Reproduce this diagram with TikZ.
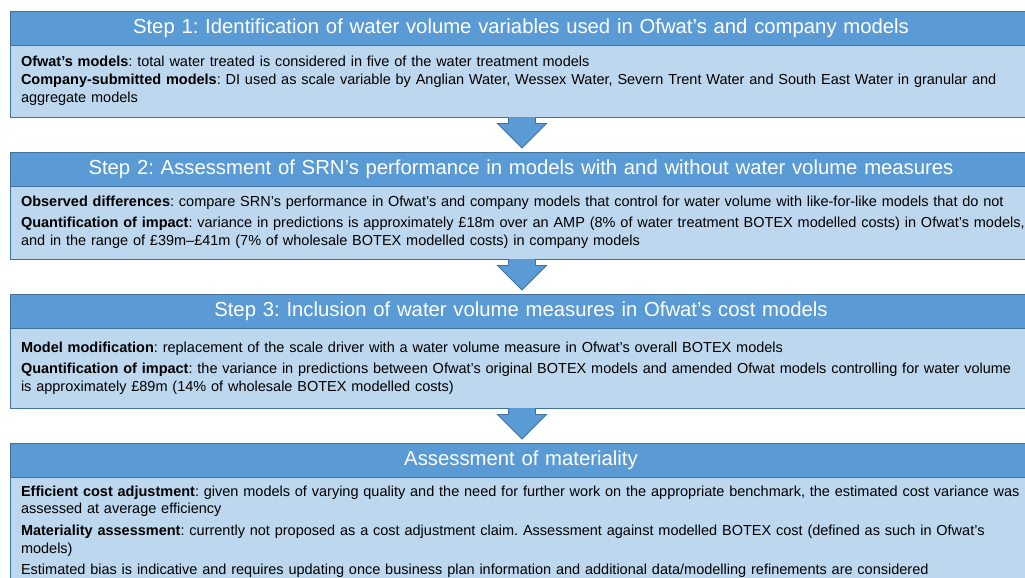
\documentclass[tikz,border=0pt]{standalone}
\usepackage{fontspec}
\setmainfont{Liberation Sans}
\usetikzlibrary{positioning}
\definecolor{headblue}{HTML}{5B9BD5}
\definecolor{bodyblue}{HTML}{BDD7EE}
\definecolor{edgeblue}{HTML}{41719C}
\frenchspacing
\hyphenpenalty=10000

\begin{document}
\begin{tikzpicture}[x=1pt,y=-1pt]

        \tikzstyle{header}=[draw=edgeblue,line width=0.8pt,fill=headblue,text=white,anchor=north west,minimum height=34pt,inner xsep=11pt,inner ysep=0pt,outer sep=0pt,text width=1000pt,align=center,font=\fontsize{20.3}{24}\selectfont]
        \tikzstyle{body}=[draw=edgeblue,line width=0.8pt,fill=bodyblue,text=black,inner xsep=11pt,inner ysep=0pt,outer sep=0pt,text width=1060pt,align=left,font=\fontsize{14.5}{17.8}\selectfont]
        \tikzstyle{down arrow}=[draw=edgeblue,line width=0.8pt,fill=headblue,line join=miter]

        \useasboundingbox (0,0) rectangle (1025,578);
        \clip (0,0) rectangle (1025,578);

        \node[header] (H1) at (10,11) {Step 1: Identification of water volume variables used in Ofwat's and company models};
        \node[body,minimum height=72pt] (B1) [below=0pt of H1.south west,anchor=north west] {\textbf{Ofwat's models}: total water treated is considered in five of the water treatment models\\
          \textbf{Company-submitted models}: DI used as scale variable by Anglian Water, Wessex Water, Severn Trent Water and South East Water in granular and\\
          aggregate models};

        \node[header] (H2) [below=35pt of B1.south west,anchor=north west] {Step 2: Assessment of SRN's performance in models with and without water volume measures};
        \node[body,minimum height=73pt] (B2) [below=0pt of H2.south west,anchor=north west] {\textbf{Observed differences}: compare SRN's performance in Ofwat's and company models that control for water volume with like-for-like models that do not\\[3.5pt]
          \textbf{Quantification of impact}: variance in predictions is approximately £18m over an AMP (8\% of water treatment BOTEX modelled costs) in Ofwat's models,\\
          and in the range of £39m–£41m (7\% of wholesale BOTEX modelled costs) in company models};

        \node[header] (H3) [below=35pt of B2.south west,anchor=north west] {Step 3: Inclusion of water volume measures in Ofwat's cost models};
        \node[body,minimum height=80pt] (B3) [below=0pt of H3.south west,anchor=north west] {\textbf{Model modification}: replacement of the scale driver with a water volume measure in Ofwat's overall BOTEX models\\[3.5pt]
          \textbf{Quantification of impact}: the variance in predictions between Ofwat's original BOTEX models and amended Ofwat models controlling for water volume\\
          is approximately £89m (14\% of wholesale BOTEX modelled costs)};

        \node[header] (H4) [below=35pt of B3.south west,anchor=north west] {Assessment of materiality};
        \node[body,minimum height=109pt] (B4) [below=0pt of H4.south west,anchor=north west] {\textbf{Efficient cost adjustment}: given models of varying quality and the need for further work on the appropriate benchmark, the estimated cost variance was\\
          assessed at average efficiency\\[3.5pt]
          \textbf{Materiality assessment}: currently not proposed as a cost adjustment claim. Assessment against modelled BOTEX cost (defined as such in Ofwat's\\
          models)\\[3.5pt]
          Estimated bias is indicative and requires updating once business plan information and additional data/modelling refinements are considered};

        % block arrows hanging under each step
        \filldraw[down arrow] ([xshift=498.5pt]B1.south west) -- ++(0,6.5) -- ++(-11,0) -- ++(24.5,24.5) -- ++(24.5,-24.5) -- ++(-11,0) -- ++(0,-6.5);
        \filldraw[down arrow] ([xshift=498.5pt]B2.south west) -- ++(0,6.5) -- ++(-11,0) -- ++(24.5,24.5) -- ++(24.5,-24.5) -- ++(-11,0) -- ++(0,-6.5);
        \filldraw[down arrow] ([xshift=498.5pt]B3.south west) -- ++(0,6.5) -- ++(-11,0) -- ++(24.5,24.5) -- ++(24.5,-24.5) -- ++(-11,0) -- ++(0,-6.5);
      \end{tikzpicture}
\end{document}
